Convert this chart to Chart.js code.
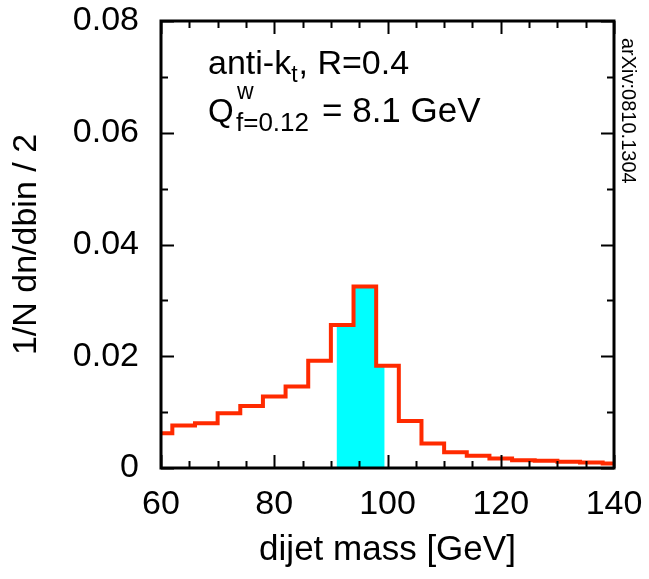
<!DOCTYPE html>
<html>
<head>
<meta charset="utf-8">
<script src="https://cdn.jsdelivr.net/npm/chart.js@4.4.1/dist/chart.umd.min.js"></script>
<style>
  html, body { margin: 0; padding: 0; background: #fff; }
  #wrap { width: 649px; height: 579px; }
</style>
</head>
<body>
<div id="wrap"><canvas id="chart"></canvas></div>
<script>
// histogram: left edge of each 4 GeV bin and its height
const binLow = [58, 62, 66, 70, 74, 78, 82, 86, 90, 94, 98, 102, 106, 110, 114, 118, 122, 126, 130, 134, 138];
const binHigh = 142;
const binValue = [0.0062, 0.0076, 0.0080, 0.0098, 0.0111, 0.0128, 0.0146, 0.0192, 0.0256, 0.0325, 0.0183,
  0.0084, 0.0044, 0.0028, 0.0022, 0.0017, 0.0014, 0.0013, 0.0011, 0.0010, 0.0008];

// shaded mass window
const bandX = [91, 94, 98, 99.5];
const bandY = [0.0256, 0.0325, 0.0183, 0.0183];

const xTicks = [60, 80, 100, 120, 140];
const yTicks = [0, 0.02, 0.04, 0.06, 0.08];

const FONT = '"Liberation Sans", Arial, Helvetica, sans-serif';

const histPoints = binLow.map((x, i) => ({ x: x, y: binValue[i] }));
histPoints.push({ x: binHigh, y: binValue[binValue.length - 1] });

const bandPoints = bandX.map((x, i) => ({ x: x, y: bandY[i] }));

// frame with inward ticks on all four sides
const framePlugin = {
  id: 'frame',
  afterDatasetsDraw(chart) {
    const { ctx, chartArea: a, scales } = chart;
    const xs = scales.x, ys = scales.y;
    ctx.save();
    ctx.strokeStyle = '#000';
    ctx.lineWidth = 2;
    for (let v = 60; v <= 140; v += 5) {
      const px = Math.round(xs.getPixelForValue(v)) + 0.5;
      const len = v % 20 === 0 ? 13 : 7;
      ctx.beginPath();
      ctx.moveTo(px, a.bottom); ctx.lineTo(px, a.bottom - len);
      ctx.moveTo(px, a.top); ctx.lineTo(px, a.top + len);
      ctx.stroke();
    }
    for (let k = 0; k <= 8; k++) {
      const py = Math.round(ys.getPixelForValue(k / 100)) + 0.5;
      const len = k % 2 === 0 ? 13 : 7;
      ctx.beginPath();
      ctx.moveTo(a.left, py); ctx.lineTo(a.left + len, py);
      ctx.moveTo(a.right, py); ctx.lineTo(a.right - len, py);
      ctx.stroke();
    }
    ctx.lineWidth = 3;
    ctx.strokeRect(a.left, a.top, a.right - a.left, a.bottom - a.top);

    // labels inside the plot
    ctx.fillStyle = '#000';
    ctx.textBaseline = 'alphabetic';
    const x0 = a.left + 47;
    let x = x0;
    ctx.font = '34px ' + FONT;
    ctx.fillText('anti-k', x, 74);
    x += ctx.measureText('anti-k').width;
    ctx.font = '23px ' + FONT;
    ctx.fillText('t', x, 82);
    x += ctx.measureText('t').width + 1;
    ctx.font = '34px ' + FONT;
    ctx.fillText(', R=0.4', x, 74);

    ctx.font = '33px ' + FONT;
    ctx.fillText('Q', x0, 122);
    ctx.font = '23px ' + FONT;
    ctx.fillText('w', x0 + 29, 99);
    ctx.font = '26px ' + FONT;
    ctx.fillText('f=0.12', x0 + 28, 131);
    ctx.font = '35px ' + FONT;
    ctx.fillText('= 8.1 GeV', x0 + 114, 122);

    // side stamp
    ctx.translate(a.right + 8, 38);
    ctx.rotate(Math.PI / 2);
    ctx.font = '20px ' + FONT;
    ctx.fillText('arXiv:0810.1304', 0, 0);
    ctx.restore();
  }
};

new Chart(document.getElementById('chart'), {
  type: 'line',
  data: {
    datasets: [
      {
        data: histPoints,
        stepped: 'before',
        borderColor: '#ff2a00',
        borderWidth: 4,
        pointRadius: 0,
        fill: false,
        order: 1,
      },
      {
        data: bandPoints,
        stepped: 'before',
        borderWidth: 0,
        borderColor: 'rgba(0,0,0,0)',
        backgroundColor: '#00ffff',
        pointRadius: 0,
        fill: 'origin',
        order: 2,
      },
    ],
  },
  options: {
    responsive: true,
    maintainAspectRatio: false,
    animation: false,
    layout: { padding: { top: 21, right: 35, left: 0, bottom: 0 } },
    plugins: {
      legend: { display: false },
      tooltip: { enabled: false },
    },
    scales: {
      x: {
        type: 'linear',
        min: 60,
        max: 140,
        afterBuildTicks: (s) => { s.ticks = xTicks.map(v => ({ value: v })); },
        afterFit: (s) => {
          s.height = 111;
          s.paddingLeft = 0; s.paddingRight = 0;
        },
        grid: { display: false, drawTicks: false },
        border: { display: false },
        ticks: { color: '#000', padding: 16, maxRotation: 0, font: { size: 34, family: FONT } },
        title: {
          display: true,
          text: 'dijet mass [GeV]',
          color: '#000',
          font: { size: 35, family: FONT },
          padding: { top: 0, bottom: 8 },
        },
      },
      y: {
        min: 0,
        max: 0.08,
        afterBuildTicks: (s) => { s.ticks = yTicks.map(v => ({ value: v })); },
        afterFit: (s) => {
          s.width = 161;
          s.paddingTop = 0; s.paddingBottom = 0;
        },
        grid: { display: false, drawTicks: false },
        border: { display: false },
        ticks: {
          color: '#000',
          padding: 22,
          font: { size: 34, family: FONT },
          callback: (v) => (v === 0 ? '0' : v.toFixed(2)),
        },
        title: {
          display: true,
          text: '1/N dn/dbin / 2',
          color: '#000',
          font: { size: 34, family: FONT },
          padding: { top: 6, bottom: 0 },
        },
      },
    },
  },
  plugins: [framePlugin],
});
</script>
</body>
</html>
